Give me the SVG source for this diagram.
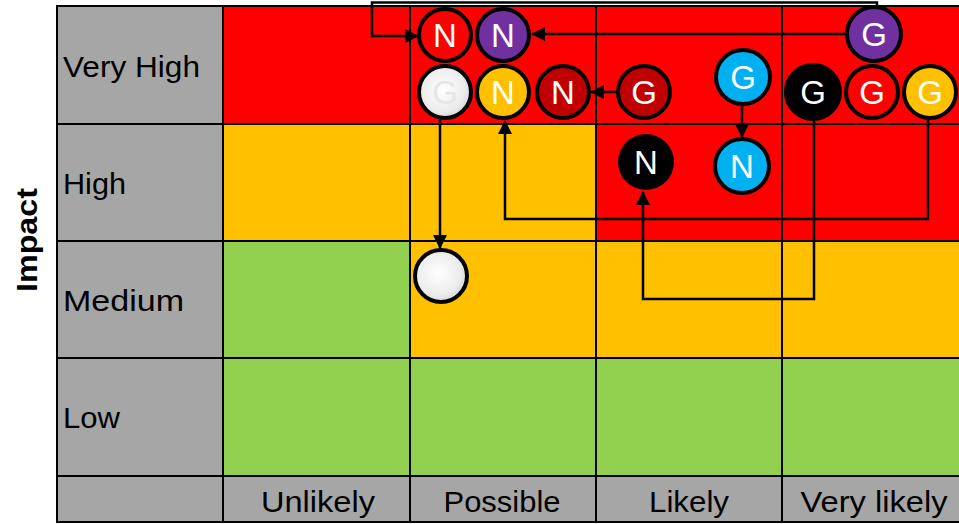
<svg xmlns="http://www.w3.org/2000/svg" width="959" height="524" viewBox="0 0 959 524">
<style>
.red{fill:#FF0000}.org{fill:#FFC000}.grn{fill:#92D050}.gry{fill:#A6A6A6}
.grid{stroke:#000;stroke-width:2;fill:none}
.lbl{font-family:"Liberation Sans",Arial,sans-serif;font-size:30px;fill:#000}
.col{text-anchor:middle}
.node circle{stroke:#000;stroke-width:4}
.node text{font-family:"Liberation Sans",Arial,sans-serif;font-size:33px;fill:#fff;text-anchor:middle}
.conn{stroke:#000;stroke-width:2.5;fill:none}
</style>
<defs>
<marker id="ah" markerUnits="userSpaceOnUse" markerWidth="14" markerHeight="14" refX="13" refY="7" orient="auto" viewBox="0 0 14 14">
<path d="M0,0 L14,7 L0,14 z" fill="#000"/>
</marker>
<radialGradient id="wg" cx="0.45" cy="0.45" r="0.6">
<stop offset="0" stop-color="#ffffff"/>
<stop offset="0.7" stop-color="#ececec"/>
<stop offset="1" stop-color="#cfcfcf"/>
</radialGradient>
</defs>
<rect width="959" height="524" fill="#fff"/>
<g id="grid">
<rect class="gry" x="56" y="6" width="167" height="516"/>
<rect class="gry" x="223" y="476" width="736" height="46"/>
<rect class="red" x="223" y="6" width="736" height="118"/>
<rect class="org" x="223" y="124" width="373" height="117"/>
<rect class="red" x="596" y="124" width="363" height="117"/>
<rect class="grn" x="223" y="241" width="187" height="117"/>
<rect class="org" x="410" y="241" width="549" height="117"/>
<rect class="grn" x="223" y="358" width="736" height="118"/>
<path class="grid" d="M56 6 H959 M56 124 H959 M56 241 H959 M56 358 H959 M56 476 H959 M56 522 H959 M57 6 V522 M223 6 V522 M410 6 V522 M596 6 V522 M782 6 V522"/>
<text class="lbl" x="63" y="77" textLength="137" lengthAdjust="spacingAndGlyphs">Very High</text>
<text class="lbl" x="63" y="194" textLength="63" lengthAdjust="spacingAndGlyphs">High</text>
<text class="lbl" x="63" y="311" textLength="121" lengthAdjust="spacingAndGlyphs">Medium</text>
<text class="lbl" x="63" y="428" textLength="57" lengthAdjust="spacingAndGlyphs">Low</text>
<text class="lbl col" x="318" y="512" textLength="114" lengthAdjust="spacingAndGlyphs">Unlikely</text>
<text class="lbl col" x="502" y="512" textLength="117" lengthAdjust="spacingAndGlyphs">Possible</text>
<text class="lbl col" x="689" y="512" textLength="80" lengthAdjust="spacingAndGlyphs">Likely</text>
<text class="lbl col" x="874" y="512" textLength="147" lengthAdjust="spacingAndGlyphs">Very likely</text>
<text class="lbl" transform="translate(37,240) rotate(-90)" text-anchor="middle" font-weight="bold" font-size="31" textLength="104" lengthAdjust="spacingAndGlyphs">Impact</text>
</g>
<g id="connectors">
<path class="conn" d="M847 34 H532" marker-end="url(#ah)"/>
<path class="conn" d="M877 7 V2.5 H372 V36 H418" marker-end="url(#ah)"/>
<path class="conn" d="M617 92 H591" marker-end="url(#ah)"/>
<path class="conn" d="M742 106 V137" marker-end="url(#ah)"/>
<path class="conn" d="M814 121 V299 H643 V192" marker-end="url(#ah)"/>
<path class="conn" d="M928 120 V219 H505 V121" marker-end="url(#ah)"/>
<path class="conn" d="M440 120 V248" marker-end="url(#ah)"/>
</g>
<g id="n-red" class="node"><circle cx="445" cy="35" r="26" fill="#FF0000"/><text x="445" y="47">N</text></g>
<g id="n-purple" class="node"><circle cx="503" cy="35" r="26" fill="#7030A0"/><text x="503" y="47">N</text></g>
<g id="g-white" class="node"><circle cx="445" cy="92" r="26" fill="url(#wg)"/><text x="445" y="104" style="fill:#e6e6e6">G</text></g>
<g id="n-orange" class="node"><circle cx="503" cy="92" r="26" fill="#FFC000"/><text x="503" y="104">N</text></g>
<g id="n-darkred" class="node"><circle cx="563" cy="92" r="26" fill="#C00000"/><text x="563" y="104">N</text></g>
<g id="g-darkred" class="node"><circle cx="644" cy="92" r="26" fill="#C00000"/><text x="644" y="104">G</text></g>
<g id="g-cyan" class="node"><circle cx="743" cy="77" r="27" fill="#00B0F0"/><text x="743" y="89">G</text></g>
<g id="g-black" class="node"><circle cx="813" cy="92" r="27" fill="#000"/><text x="813" y="104">G</text></g>
<g id="g-red" class="node"><circle cx="872" cy="92" r="26" fill="#FF0000"/><text x="872" y="104">G</text></g>
<g id="g-orange" class="node"><circle cx="930" cy="92" r="26" fill="#FFC000"/><text x="930" y="104">G</text></g>
<g id="g-purple" class="node"><circle cx="874" cy="34" r="27" fill="#7030A0"/><text x="874" y="46">G</text></g>
<g id="n-black" class="node"><circle cx="646" cy="162" r="28" fill="#000" style="stroke:none"/><text x="646" y="174">N</text></g>
<g id="n-cyan" class="node"><circle cx="742" cy="166" r="27" fill="#00B0F0"/><text x="742" y="178">N</text></g>
<g id="white-medium" class="node"><circle cx="441" cy="276" r="26" fill="url(#wg)"/></g>
</svg>
